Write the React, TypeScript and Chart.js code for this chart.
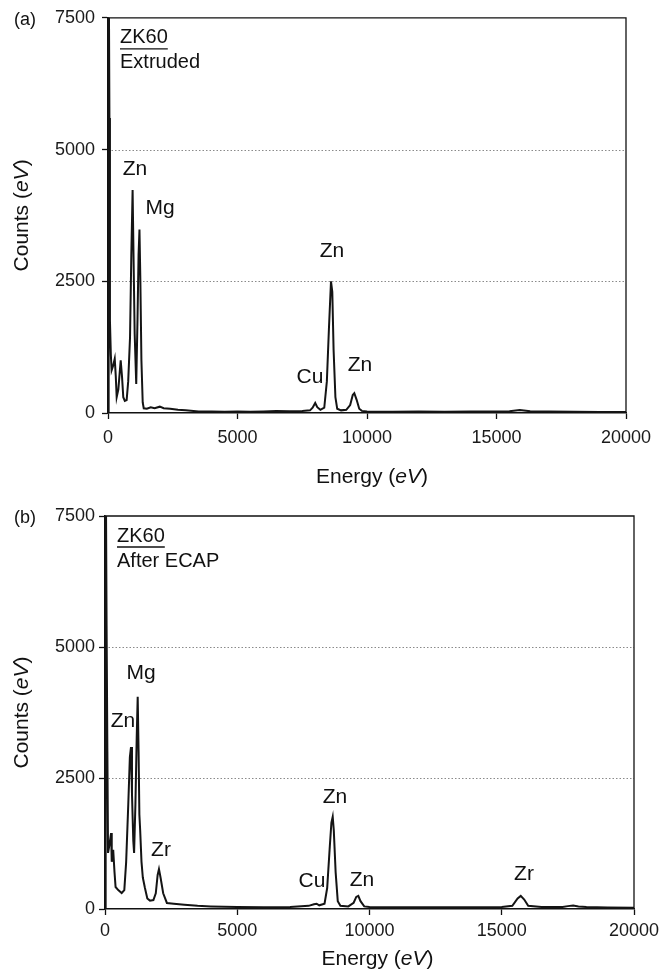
import React, { useEffect, useRef } from "react";
import { Chart, registerables } from "chart.js";

Chart.register(...registerables);

// ---------- data ----------
const energyA = [
  0, 25, 55, 75, 110, 140, 200, 260, 300, 335, 400, 490, 540, 590, 650, 720, 780, 850, 900, 950,
  985, 1030, 1090, 1140, 1180, 1215, 1250, 1290, 1340, 1380, 1500, 1650, 1800, 2000, 2150, 2400,
  2700, 3000, 3500, 4000, 4500, 5000, 5500, 6000, 6500, 7000, 7500, 7800, 7900, 8000, 8080, 8200,
  8350, 8450, 8530, 8610, 8660, 8710, 8780, 8850, 9000, 9200, 9350, 9450, 9510, 9600, 9700, 9800,
  10000, 11000, 12000, 13000, 14000, 15000, 15500, 15900, 16300, 17000, 18000, 19000, 20000,
];
const countsA = [
  0, 9000, 5600, 1750, 1100, 810, 900, 1030, 700, 300, 450, 1000, 700, 300, 230, 245, 600, 1430, 3000, 4230,
  3000, 1500, 550, 1800, 3000, 3480, 2500, 1000, 200, 90, 80, 110, 90, 120, 90, 80,
  60, 50, 30, 30, 25, 30, 25, 30, 40, 35, 40, 50, 100, 190, 110, 60,
  100, 600, 1600, 2500, 2300, 1200, 300, 80, 50, 60, 150, 340, 375, 250, 80, 40,
  30, 25, 30, 25, 30, 30, 35, 55, 35, 30, 25, 20, 20,
];

const energyB = [
  0, 25, 60, 90, 115, 160, 230, 255, 310, 360, 400, 500, 630, 730, 800, 880, 940, 983, 1020, 1070,
  1100, 1150, 1200, 1236, 1270, 1300, 1330, 1380, 1430, 1510, 1600, 1700, 1830, 1920, 1990, 2040,
  2100, 2200, 2340, 2600, 3000, 3500, 4000, 5000, 6000, 7000, 7700, 7900, 8000, 8100, 8300, 8400,
  8500, 8560, 8609, 8650, 8720, 8800, 8900, 9200, 9400, 9500, 9577, 9660, 9800, 10000, 11000, 12000,
  13000, 14000, 15000, 15400, 15600, 15718, 15850, 16000, 16500, 17300, 17500, 17700, 17900, 18200,
  19000, 20000,
];
const countsB = [
  0, 9000, 5400, 3000, 1070, 1200, 1450, 900, 1130, 700, 420, 360, 305, 360, 900, 2000, 2900, 3090, 2200, 1300,
  1070, 2000, 3300, 4050, 3000, 1800, 1500, 900, 600, 400, 200, 160, 170, 300, 650, 760,
  600, 300, 115, 100, 80, 60, 50, 40, 35, 40, 60, 90, 100, 70, 100, 400,
  1200, 1650, 1760, 1500, 700, 150, 60, 50, 120, 230, 250, 150, 50, 40, 35, 35,
  35, 35, 40, 60, 200, 250, 180, 60, 40, 40, 55, 65, 50, 40,
  30, 25,
];

const yTickValues = [0, 2500, 5000, 7500];
const xTickValues = [0, 5000, 10000, 15000, 20000];
const gridValues = [2500, 5000];

// peak labels: text, energy (eV), counts at label centre
const peakLabelsA = [
  { text: "Zn", e: 1042, c: 4625 },
  { text: "Mg", e: 2008, c: 3892 },
  { text: "Zn", e: 8649, c: 3064 },
  { text: "Cu", e: 7800, c: 677 },
  { text: "Zn", e: 9730, c: 902 },
];
const peakLabelsB = [
  { text: "Mg", e: 1361, c: 4503 },
  { text: "Zn", e: 681, c: 3587 },
  { text: "Zr", e: 2117, c: 1126 },
  { text: "Zn", e: 8696, c: 2137 },
  { text: "Cu", e: 7827, c: 534 },
  { text: "Zn", e: 9717, c: 553 },
  { text: "Zr", e: 15842, c: 668 },
];

const FONT = '"Liberation Sans", Arial, Helvetica, sans-serif';

type Seg = { t: string; italic?: boolean };
const countsTitle: Seg[] = [{ t: "Counts (" }, { t: "eV", italic: true }, { t: ")" }];
const energyTitle: Seg[] = [{ t: "Energy (" }, { t: "eV", italic: true }, { t: ")" }];

function drawSegs(ctx: CanvasRenderingContext2D, segs: Seg[], cx: number, cy: number, size: number) {
  const widths = segs.map((s) => {
    ctx.font = `${s.italic ? "italic " : ""}${size}px ${FONT}`;
    return ctx.measureText(s.t).width;
  });
  const total = widths.reduce((a, b) => a + b, 0);
  let x = cx - total / 2;
  ctx.textAlign = "left";
  ctx.textBaseline = "middle";
  segs.forEach((s, i) => {
    ctx.font = `${s.italic ? "italic " : ""}${size}px ${FONT}`;
    ctx.fillText(s.t, x, cy);
    x += widths[i];
  });
}

type PanelCfg = {
  top: number;
  height: number;
  padTop: number;
  padRight: number;
  padBottom: number;
  yAxisWidth: number;
  xAxisHeight: number;
  yTickPad: number;
  xTickPad: number;
  panel: string;
  header: string[];
  energy: number[];
  counts: number[];
  labels: { text: string; e: number; c: number }[];
  xTitleDy: number;
  xTitleDx: number;
};

function Panel({ cfg }: { cfg: PanelCfg }) {
  const ref = useRef<HTMLCanvasElement | null>(null);
  useEffect(() => {
    if (!ref.current) return;
    const points = cfg.energy.map((e, i) => ({ x: e, y: cfg.counts[i] }));
    const deco = {
      id: "deco",
      beforeDatasetsDraw(chart: any) {
        const { ctx, chartArea, scales } = chart;
        ctx.save();
        ctx.strokeStyle = "#8a8a8a";
        ctx.lineWidth = 1;
        ctx.setLineDash([1.5, 2]);
        gridValues.forEach((v) => {
          const py = Math.round(scales.y.getPixelForValue(v)) + 0.5;
          ctx.beginPath();
          ctx.moveTo(chartArea.left, py);
          ctx.lineTo(chartArea.right, py);
          ctx.stroke();
        });
        ctx.restore();
      },
      afterDraw(chart: any) {
        const { ctx, chartArea, scales } = chart;
        const { left, top, right, bottom } = chartArea;
        ctx.save();
        // plot box (top and right)
        ctx.strokeStyle = "#111";
        ctx.lineWidth = 1.3;
        ctx.beginPath();
        ctx.moveTo(left, top);
        ctx.lineTo(right, top);
        ctx.lineTo(right, bottom);
        ctx.stroke();

        ctx.fillStyle = "#111";
        // panel label
        ctx.font = `18px ${FONT}`;
        ctx.textAlign = "left";
        ctx.textBaseline = "middle";
        ctx.fillText(cfg.panel, 14, top + 2);

        // header
        ctx.font = `20px ${FONT}`;
        const hx = left + 12;
        ctx.fillText(cfg.header[0], hx, top + 20);
        const w = ctx.measureText(cfg.header[0]).width;
        ctx.lineWidth = 1.3;
        ctx.beginPath();
        ctx.moveTo(hx, top + 31);
        ctx.lineTo(hx + w, top + 31);
        ctx.stroke();
        ctx.fillText(cfg.header[1], hx, top + 45);

        // peak labels
        ctx.font = `21px ${FONT}`;
        ctx.textAlign = "center";
        cfg.labels.forEach((l) => {
          ctx.fillText(l.text, scales.x.getPixelForValue(l.e), scales.y.getPixelForValue(l.c));
        });

        // axis titles
        drawSegs(ctx, energyTitle, (left + right) / 2 + cfg.xTitleDx, bottom + cfg.xTitleDy, 21);
        ctx.save();
        ctx.translate(22, (top + bottom) / 2);
        ctx.rotate(-Math.PI / 2);
        drawSegs(ctx, countsTitle, 0, 0, 21);
        ctx.restore();
        ctx.restore();
      },
    };
    const chart = new Chart(ref.current, {
      type: "line",
      data: {
        datasets: [
          {
            data: points,
            borderColor: "#141414",
            borderWidth: 2,
            pointRadius: 0,
            tension: 0,
            fill: false,
          },
        ],
      },
      options: {
        animation: false,
        responsive: false,
        maintainAspectRatio: false,
        devicePixelRatio: 1,
        layout: { padding: { top: cfg.padTop, right: cfg.padRight, left: 0, bottom: cfg.padBottom } },
        plugins: { legend: { display: false }, tooltip: { enabled: false }, title: { display: false } },
        scales: {
          x: {
            type: "linear",
            min: 0,
            max: 20000,
            afterBuildTicks: (s: any) => {
              s.ticks = xTickValues.map((v) => ({ value: v }));
            },
            afterFit: (s: any) => {
              s.height = cfg.xAxisHeight;
            },
            ticks: {
              color: "#1a1a1a",
              font: { family: FONT, size: 18 },
              padding: cfg.xTickPad,
              maxRotation: 0,
              autoSkip: false,
              callback: (v: any) => String(v),
            },
            grid: { drawOnChartArea: false, tickLength: 6, tickColor: "#111", tickWidth: 1.3 },
            border: { color: "#111", width: 1.5 },
          },
          y: {
            type: "linear",
            min: 0,
            max: 7500,
            afterBuildTicks: (s: any) => {
              s.ticks = yTickValues.map((v) => ({ value: v }));
            },
            afterFit: (s: any) => {
              s.width = cfg.yAxisWidth;
            },
            ticks: {
              color: "#1a1a1a",
              font: { family: FONT, size: 18 },
              padding: cfg.yTickPad,
              autoSkip: false,
              callback: (v: any) => String(v),
            },
            grid: { drawOnChartArea: false, tickLength: 6, tickColor: "#111", tickWidth: 1.3 },
            border: { color: "#111", width: 1.5 },
          },
        },
      },
      plugins: [deco],
    } as any);
    return () => chart.destroy();
  }, [cfg]);
  return (
    <canvas
      ref={ref}
      width={665}
      height={cfg.height}
      style={{ position: "absolute", left: 0, top: cfg.top, display: "block", width: 665, height: cfg.height }}
    />
  );
}

const panelA: PanelCfg = {
  top: 0,
  height: 500,
  padTop: 15,
  padRight: 39,
  padBottom: 15,
  yAxisWidth: 108,
  xAxisHeight: 72,
  yTickPad: 7,
  xTickPad: 8,
  panel: "(a)",
  header: ["ZK60", "Extruded"],
  energy: energyA,
  counts: countsA,
  labels: peakLabelsA,
  xTitleDy: 64,
  xTitleDx: 5,
};

const panelB: PanelCfg = {
  top: 485,
  height: 486,
  padTop: 31,
  padRight: 31,
  padBottom: 0,
  yAxisWidth: 105,
  xAxisHeight: 62,
  yTickPad: 4,
  xTickPad: 5,
  panel: "(b)",
  header: ["ZK60", "After ECAP"],
  energy: energyB,
  counts: countsB,
  labels: peakLabelsB,
  xTitleDy: 50,
  xTitleDx: 8,
};

export default function App() {
  return (
    <div style={{ position: "absolute", left: 0, top: 0, width: 665, height: 971, background: "#fff" }}>
      <Panel cfg={panelA} />
      <Panel cfg={panelB} />
    </div>
  );
}
